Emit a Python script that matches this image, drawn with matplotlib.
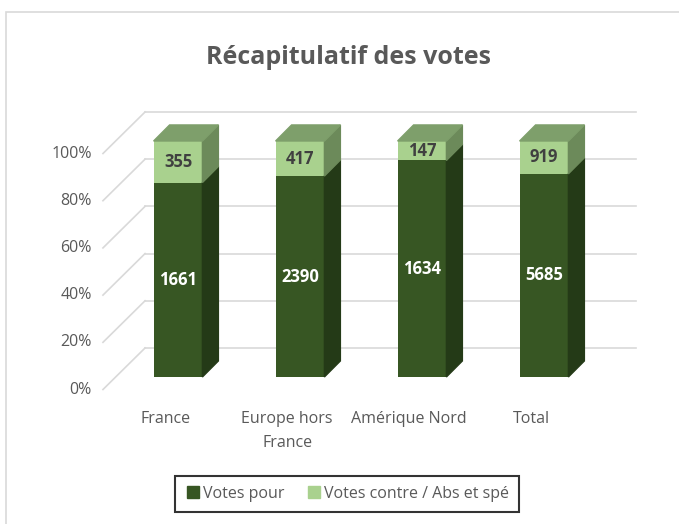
import matplotlib.pyplot as plt
from matplotlib.patches import Polygon, Rectangle
from matplotlib.lines import Line2D

# data
categories = ["France", "Europe hors\nFrance", "Amérique Nord", "Total"]
votes_pour = [1661, 2390, 1634, 5685]
votes_contre = [355, 417, 147, 919]
y_ticks = [0, 20, 40, 60, 80, 100]

plt.rcParams['font.family'] = ['Open Sans', 'DejaVu Sans']

dark = '#375623'
light = '#a9d18e'
dark_side = '#243a17'
light_side = '#6c8a5a'
top_col = '#7e9f6b'
grid_col = '#d9d9d9'
txt_col = '#595959'

# percentages (100% stacked)
tot = [p + c for p, c in zip(votes_pour, votes_contre)]
pct_pour = [100 * p / t for p, t in zip(votes_pour, tot)]
pct_contre = [100 * c / t for c, t in zip(votes_contre, tot)]

fig = plt.figure(figsize=(6.79, 5.24), dpi=100)
ax = fig.add_axes([0, 0, 1, 1])
ax.set_xlim(-178 / 122, (679 - 178) / 122)
ax.set_ylim((377 - 524) / 2.36, 377 / 2.36)
ax.axis('off')

# fake 3d geometry
bw = 0.40          # bar front width
ddx, ddy = 0.131, 6.8   # bar depth
wx0, wx1, wdy = -0.27, 3.754, 12.3   # back wall
fx0, fdy = -0.615, -5.3              # front edge of side wall

for v in y_ticks:
    ax.plot([wx0, wx1], [v + wdy, v + wdy], color=grid_col, lw=1.2, zorder=1)
    ax.plot([fx0, wx0], [v + fdy, v + wdy], color=grid_col, lw=1.2, zorder=1)
    ax.text(-0.705, v + fdy, f"{v}%", ha='right', va='center', fontsize=11.5, color=txt_col)

x = list(range(len(categories)))
ax.bar(x, pct_pour, width=bw, color=dark, zorder=3)
ax.bar(x, pct_contre, width=bw, bottom=pct_pour, color=light, zorder=3)

for i in x:
    xr = i + bw / 2
    xl = i - bw / 2
    p = pct_pour[i]
    # side faces
    ax.add_patch(Polygon([(xr, 0), (xr + ddx, ddy), (xr + ddx, p + ddy), (xr, p)],
                         closed=True, color=dark_side, zorder=3))
    ax.add_patch(Polygon([(xr, p), (xr + ddx, p + ddy), (xr + ddx, 100 + ddy), (xr, 100)],
                         closed=True, color=light_side, zorder=3))
    # top face
    ax.add_patch(Polygon([(xl, 100), (xl + ddx, 100 + ddy), (xr + ddx, 100 + ddy), (xr, 100)],
                         closed=True, color=top_col, zorder=3))
    ax.text(i, p / 2, str(votes_pour[i]), ha='center', va='center', fontsize=12,
            fontweight='bold', color='white', zorder=4)
    ax.text(i, p + pct_contre[i] / 2, str(votes_contre[i]), ha='center', va='center',
            fontsize=12, fontweight='bold', color='#404040', zorder=4)
    ax.text(i - 0.105, -14.5, categories[i], ha='center', va='top', fontsize=11.5,
            color=txt_col, linespacing=1.65)

# outer chart border
fig.patches.append(Rectangle((6 / 679, -0.1), 1.1, 1 - 12 / 524 + 0.1, transform=fig.transFigure,
                             fill=False, edgecolor=grid_col, lw=1.2))

fig.text(0.513, 1 - 57 / 524, "Récapitulatif des votes", ha='center', va='center',
         fontsize=18, fontweight='bold', color=txt_col)

handles = [Line2D([], [], marker='s', ls='', color=dark, markersize=8),
           Line2D([], [], marker='s', ls='', color=light, markersize=8)]
leg = fig.legend(handles, ["Votes pour", "Votes contre / Abs et spé"], loc='center',
                 bbox_to_anchor=(0.511, 1 - 494 / 524), ncol=2, fontsize=11.5,
                 frameon=True, fancybox=False, handletextpad=0.1, columnspacing=1.4,
                 borderpad=0.6, handlelength=1.0)
leg.get_frame().set_edgecolor('black')
leg.get_frame().set_linewidth(1.5)
for t in leg.get_texts():
    t.set_color(txt_col)

fig.savefig('out.png', dpi=100)
